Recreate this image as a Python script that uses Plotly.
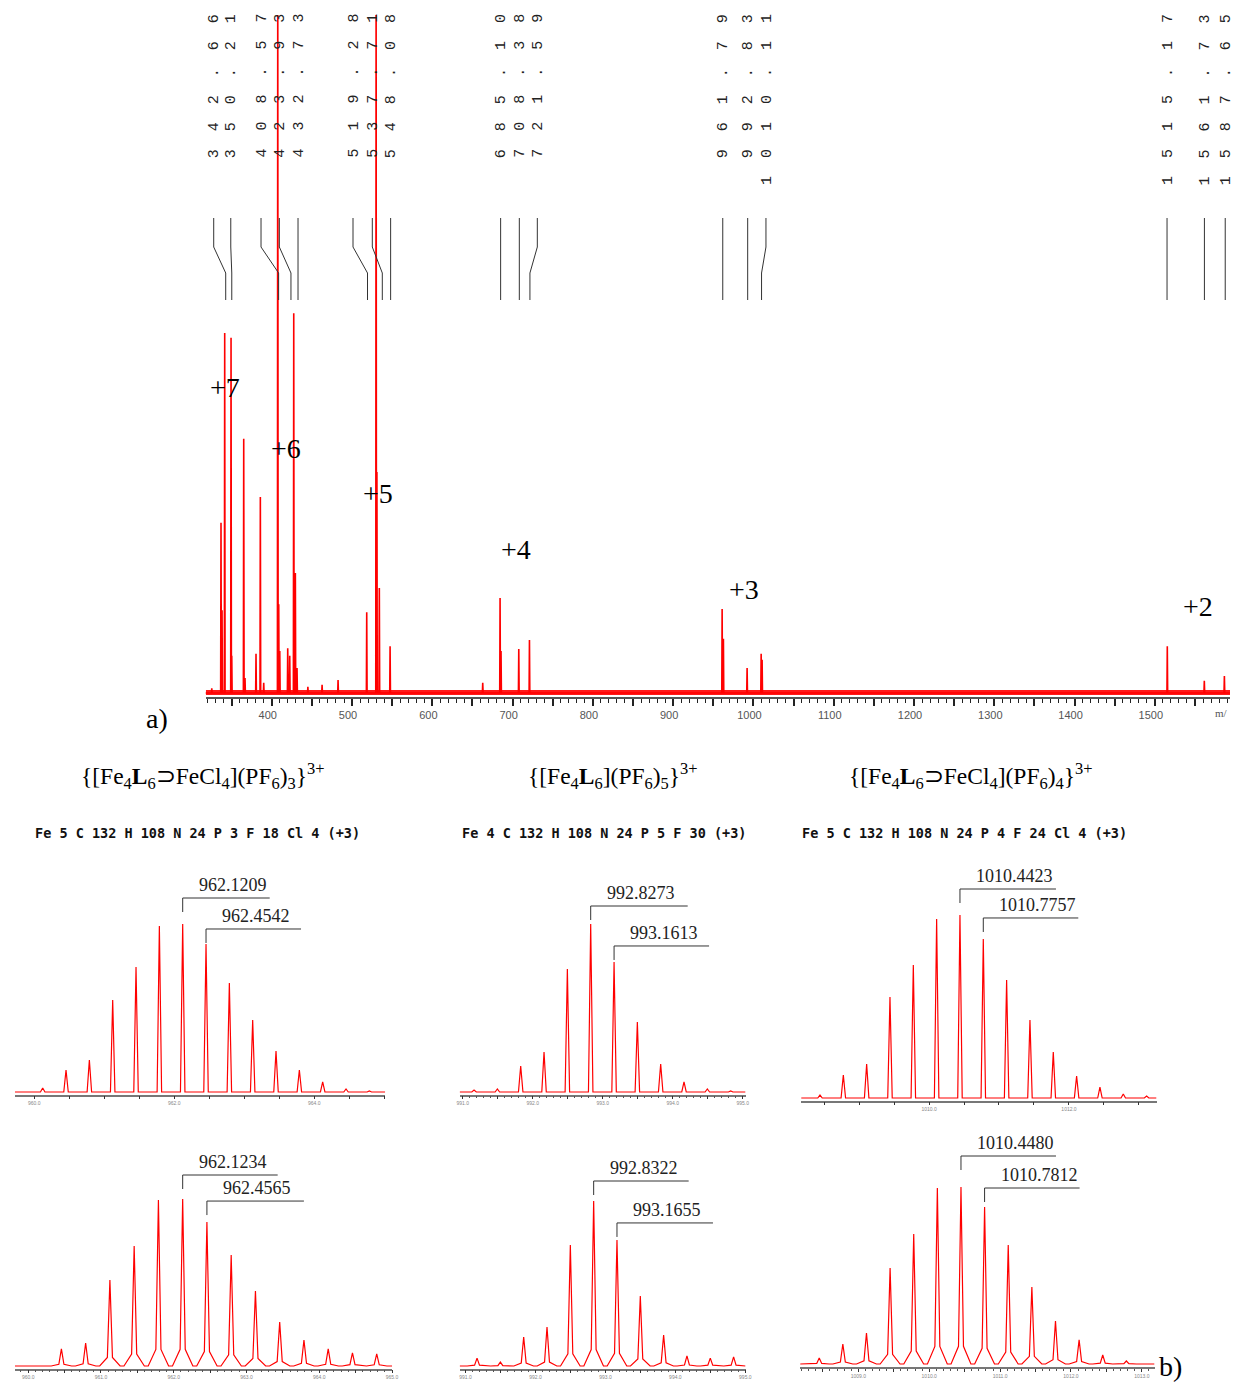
import plotly.graph_objects as go

W, H = 1236, 1383
RED = "#ff0000"

# ---------------------------------------------------------------- data
# a) survey ESI-MS spectrum: peak m/z and relative intensity (% of frame; >100 = off scale)
SURVEY_MZ = [325.3, 336.8, 338.1, 341.4, 349.3, 350.2, 365.1, 366.7, 380.4, 385.8, 390.0,
             407.5, 408.7, 410.0, 419.9, 422.4, 427.4, 429.4, 431.5, 445.0, 462.7, 482.6,
             518.3, 530.0, 531.0, 534.0, 547.4, 662.8, 684.4, 685.6, 707.7, 721.0,
             961.0, 962.6, 992.1, 1009.6, 1010.8, 1515.5, 1561.6, 1586.6]
SURVEY_INT = [0.7, 25.1, 12.2, 53.1, 52.4, 5.5, 37.5, 2.2, 5.8, 28.9, 1.5,
              110.0, 13.1, 6.2, 6.6, 5.5, 56.0, 17.7, 3.7, 0.9, 1.2, 1.9,
              11.9, 110.0, 32.6, 15.5, 6.9, 1.5, 14.0, 6.2, 6.5, 7.8,
              12.4, 8.0, 3.7, 5.8, 4.9, 6.9, 1.8, 2.5]
SURVEY_LABEL_MZ = [342.66, 350.21, 408.57, 423.93, 432.73, 519.28, 537.71, 548.08,
                   685.10, 708.38, 721.59, 961.79, 992.83, 1010.11,
                   1515.17, 1561.73, 1587.65]
CHARGE_STATES = ["+7", "+6", "+5", "+4", "+3", "+2"]
MAIN_TICK_VALUES = [400, 500, 600, 700, 800, 900, 1000, 1100, 1200, 1300, 1400, 1500]
MAIN_TICK_TEXT = ["400", "500", "600", "700", "800", "900", "1000", "1100", "1200",
                  "1300", "1400", "1500"]
MAIN_AXIS_TITLE = "m/"

# b) isotope patterns: calculated (top row) and experimental (bottom row)
CALC1_MZ = [960.1209, 960.4542, 960.7876, 961.1209, 961.4542, 961.7876, 962.1209, 962.4542,
            962.7876, 963.1209, 963.4542, 963.7876, 964.1209, 964.4542, 964.7876]
CALC1_INT = [2.4, 13.1, 19.0, 54.8, 74.4, 98.8, 100, 88.1, 64.9, 42.9, 24.4, 13.1, 6.0, 1.8, 0.6]
CALC2_MZ = [991.1606, 991.4940, 991.8273, 992.1606, 992.4940, 992.8273, 993.1613, 993.4940,
            993.8273, 994.1606, 994.4940, 994.8273]
CALC2_INT = [1.2, 1.8, 15.5, 23.8, 73.2, 100, 77.4, 41.7, 16.7, 6.0, 1.8, 0.6]
CALC3_MZ = [1008.4423, 1008.7757, 1009.1090, 1009.4423, 1009.7757, 1010.1090, 1010.4423,
            1010.7757, 1011.1090, 1011.4423, 1011.7757, 1012.1090, 1012.4423, 1012.7757,
            1013.1090]
CALC3_INT = [1.6, 12.6, 18.6, 55.2, 72.7, 97.8, 100, 86.9, 64.5, 42.6, 25.1, 12.0, 6.0, 2.2, 1.1]

EXP1_MZ = [960.4567, 960.7900, 961.1234, 961.4567, 961.7900, 962.1234, 962.4565, 962.7900,
           963.1234, 963.4567, 963.7900, 964.1234, 964.4567, 964.7900]
EXP1_INT = [10.2, 13.8, 51.5, 71.9, 99.4, 100, 86.2, 66.5, 44.9, 26.3, 15.6, 10.2, 7.8, 7.2]
EXP2_MZ = [991.1655, 991.4989, 991.8322, 992.1655, 992.4989, 992.8322, 993.1655, 993.4989,
           993.8322, 994.1655, 994.4989, 994.8322]
EXP2_INT = [4.8, 2.4, 17.6, 23.6, 73.3, 100, 76.4, 42.4, 18.8, 6.1, 4.8, 5.5]
EXP3_MZ = [1008.4480, 1008.7813, 1009.1147, 1009.4480, 1009.7813, 1010.1147, 1010.4480,
           1010.7812, 1011.1147, 1011.4480, 1011.7813, 1012.1147, 1012.4480, 1012.7813]
EXP3_INT = [3.4, 11.3, 17.5, 54.2, 73.4, 99.4, 100, 88.7, 67.2, 43.5, 24.3, 13.6, 5.1, 1.7]

CALC_LABEL_MZ = [[962.1209, 962.4542], [992.8273, 993.1613], [1010.4423, 1010.7757]]
EXP_LABEL_MZ = [[962.1234, 962.4565], [992.8322, 993.1655], [1010.4480, 1010.7812]]

TITLES = ["{[Fe<sub>4</sub><b>L</b><sub>6</sub>⊃FeCl<sub>4</sub>](PF<sub>6</sub>)<sub>3</sub>}<sup>3+</sup>",
          "{[Fe<sub>4</sub><b>L</b><sub>6</sub>](PF<sub>6</sub>)<sub>5</sub>}<sup>3+</sup>",
          "{[Fe<sub>4</sub><b>L</b><sub>6</sub>⊃FeCl<sub>4</sub>](PF<sub>6</sub>)<sub>4</sub>}<sup>3+</sup>"]
FORMULAS = ["Fe 5 C 132 H 108 N 24 P 3 F 18 Cl 4 (+3)",
            "Fe 4 C 132 H 108 N 24 P 5 F 30 (+3)",
            "Fe 5 C 132 H 108 N 24 P 4 F 24 Cl 4 (+3)"]

P1_TICK_LABELS = ["960.0", "962.0", "964.0"]
P2_TICK_LABELS = ["991.0", "992.0", "993.0", "994.0", "995.0"]
P3_TICK_LABELS = ["1010.0", "1012.0"]
P4_TICK_LABELS = ["960.0", "961.0", "962.0", "963.0", "964.0", "965.0"]
P5_TICK_LABELS = ["991.0", "992.0", "993.0", "994.0", "995.0"]
P6_TICK_LABELS = ["1009.0", "1010.0", "1011.0", "1012.0", "1013.0"]

# ---------------------------------------------------------------- layout helpers
def py(p):
    return 1 - p / H


def pxx(p):
    return p / W


def profile(mz, inten, half, lo, hi, foot=None):
    xs, ys = [lo], [0]
    for m, h in sorted(zip(mz, inten)):
        if foot:
            xs += [m - foot, m - half, m, m + half, m + foot]
            ys += [0, 0.1 * h, h, 0.1 * h, 0]
        else:
            xs += [m - half, m, m + half]
            ys += [0, h, 0]
    xs.append(hi)
    ys.append(0)
    return xs, ys


fig = go.Figure()
shapes, annotations = [], []

# ---------------------------------------------------------------- a) survey spectrum
MAIN_XR = [317.5, 1593.6]
MAIN_YR = [-0.59, 100]
sx, sy = profile(SURVEY_MZ, SURVEY_INT, 0.45, MAIN_XR[0], MAIN_XR[1])
fig.add_trace(go.Scatter(x=sx, y=sy, mode="lines", line=dict(color=RED, width=1.6),
                         xaxis="x", yaxis="y", hoverinfo="skip"))
# noise floor band
shapes.append(dict(type="rect", xref="x", yref="y", x0=MAIN_XR[0] + 0.5, x1=MAIN_XR[1],
                   y0=-0.3, y1=0.45, fillcolor=RED, opacity=0.9, line=dict(width=0),
                   layer="above"))

major_vals, major_text = [], []
for v in range(350, 1601, 50):
    major_vals.append(v)
    major_text.append(MAIN_TICK_TEXT[MAIN_TICK_VALUES.index(v)] if v in MAIN_TICK_VALUES else "")

layout_axes = dict(
    xaxis=dict(domain=[pxx(204), 1.0], range=MAIN_XR, anchor="y", showgrid=False,
               zeroline=False, showline=True, linecolor="#555", linewidth=2, ticks="outside",
               ticklen=7, tickwidth=1.5, tickcolor="#222", tickvals=major_vals,
               ticktext=major_text,
               tickfont=dict(family="Liberation Sans", size=11, color="#555"),
               ticklabelshift=-4,
               minor=dict(ticks="outside", tick0=0, dtick=10, ticklen=4, tickwidth=1,
                          tickcolor="#222")),
    yaxis=dict(domain=[py(697), py(15)], range=MAIN_YR, anchor="x", visible=False),
)
annotations.append(dict(x=pxx(1236), y=py(713), xref="paper", yref="paper",
                        text=MAIN_AXIS_TITLE, xanchor="right", yanchor="middle",
                        showarrow=False,
                        font=dict(family="Liberation Serif", size=11, color="#555")))

# peak-label columns and connectors
LABEL_SHIFT_PX = [-12, -1, -17.6, -11.6, 0, -14.5, -10, 0, 0, 0, 7.4, 0, 0, 4.4, 0, 0, 0]
yc = [py(218), py(247), py(273), py(300)]
for m, s in zip(SURVEY_LABEL_MZ, LABEL_SHIFT_PX):
    txt = "\u00a0\u00a0".join(list(f"{m:.2f}"))
    annotations.append(dict(x=m, xref="x", y=py(12), yref="paper", text=txt, textangle=-90,
                            xanchor="center", yanchor="top", xshift=s + 1.5, showarrow=False,
                            font=dict(family="Liberation Mono", size=15, color="#222")))
    path = f"M {s},{yc[0]} L {s},{yc[1]} L 0,{yc[2]} L 0,{yc[3]}"
    shapes.append(dict(type="path", xref="x", yref="paper", xsizemode="pixel", xanchor=m,
                       path=path, line=dict(color="#333", width=1)))

CHARGE_POS = [(341.8, 45.0), (417.8, 36.1), (532.4, 29.4), (704.3, 21.2), (988.4, 15.2),
              (1553.9, 12.7)]
for lab, (cx, cy) in zip(CHARGE_STATES, CHARGE_POS):
    annotations.append(dict(x=cx, y=cy, xref="x", yref="y", text=lab, showarrow=False,
                            xanchor="center", yanchor="middle",
                            font=dict(family="Liberation Serif", size=28, color="#000")))

annotations.append(dict(x=pxx(155), y=py(718), xref="paper", yref="paper", text="a)",
                        xanchor="center", yanchor="middle", showarrow=False,
                        font=dict(family="Liberation Serif", size=28, color="#000")))
annotations.append(dict(x=pxx(1176), y=py(1366), xref="paper", yref="paper", text="b)",
                        xanchor="center", yanchor="middle", showarrow=False,
                        font=dict(family="Liberation Serif", size=28, color="#000")))

# ---------------------------------------------------------------- b) isotope panels
PANELS = [
    dict(mz=CALC1_MZ, it=CALC1_INT, px=(12, 385), axis=1094.5, base=1092, full=924, top=860,
         xr=(959.724, 965.014), labels=P1_TICK_LABELS, minor=False, exp=False,
         peaks=CALC_LABEL_MZ[0], gaps=[12, 1], lens=[87, 95]),
    dict(mz=CALC2_MZ, it=CALC2_INT, px=(460, 748), axis=1094.5, base=1092, full=924, top=860,
         xr=(990.955, 995.040), labels=P2_TICK_LABELS, minor=True, exp=False,
         peaks=CALC_LABEL_MZ[1], gaps=[4, 2], lens=[97, 95]),
    dict(mz=CALC3_MZ, it=CALC3_INT, px=(804, 1162), axis=1100.5, base=1098, full=915, top=860,
         xr=(1008.173, 1013.251), labels=P3_TICK_LABELS, minor=False, exp=False,
         peaks=CALC_LABEL_MZ[2], gaps=[12, 7], lens=[96, 95]),
    dict(mz=EXP1_MZ, it=EXP1_INT, px=(12, 392), axis=1368.5, base=1366, full=1199, top=1135,
         xr=(959.818, 965.002), labels=P4_TICK_LABELS, minor=True, exp=True,
         peaks=EXP_LABEL_MZ[0], gaps=[10, 7], lens=[95, 97]),
    dict(mz=EXP2_MZ, it=EXP2_INT, px=(460, 748), axis=1368.5, base=1366, full=1201, top=1135,
         xr=(990.917, 995.003), labels=P5_TICK_LABELS, minor=True, exp=True,
         peaks=EXP_LABEL_MZ[1], gaps=[6, 3], lens=[95, 96]),
    dict(mz=EXP3_MZ, it=EXP3_INT, px=(803, 1160), axis=1367, base=1364, full=1187, top=1135,
         xr=(1008.179, 1013.179), labels=P6_TICK_LABELS, minor=True, exp=True,
         peaks=EXP_LABEL_MZ[2], gaps=[17, 5], lens=[95, 95]),
]

for i, P in enumerate(PANELS):
    k = i + 2
    xa, ya = f"x{k}", f"y{k}"
    scale = (P["base"] - P["full"]) / 100.0
    yr = [-(P["axis"] - P["base"]) / scale, (P["base"] - P["top"]) / scale]
    if P["exp"]:
        px_, py_ = profile(P["mz"], P["it"], 0.035, P["xr"][0], P["xr"][1], foot=0.14)
    else:
        px_, py_ = profile(P["mz"], P["it"], 0.032, P["xr"][0], P["xr"][1])
    fig.add_trace(go.Scatter(x=px_, y=py_, mode="lines", line=dict(color=RED, width=1.2),
                             xaxis=xa, yaxis=ya, hoverinfo="skip"))
    labvals = [float(t) for t in P["labels"]]
    tv, tt = [], []
    v = round(P["xr"][0] * 2) / 2.0
    while v <= P["xr"][1]:
        tv.append(v)
        tt.append(P["labels"][labvals.index(v)] if v in labvals else "")
        v += 0.5
    xdict = dict(domain=[pxx(P["px"][0]), pxx(P["px"][1])], range=list(P["xr"]), anchor=ya,
                 showgrid=False, zeroline=False, showline=True, linecolor="#777", linewidth=1.5,
                 ticks="outside", ticklen=3, tickwidth=1, tickcolor="#333", tickvals=tv,
                 ticktext=tt, tickfont=dict(family="Liberation Sans", size=5, color="#888"))
    if P["minor"]:
        xdict["minor"] = dict(ticks="outside", tick0=0, dtick=0.1, ticklen=2, tickwidth=1,
                              tickcolor="#555")
    layout_axes[f"xaxis{k}"] = xdict
    layout_axes[f"yaxis{k}"] = dict(domain=[py(P["axis"]), py(P["top"])], range=yr, anchor=xa,
                                    visible=False)
    # bracketed peak labels
    for lm, g, L in zip(P["peaks"], P["gaps"], P["lens"]):
        j = min(range(len(P["mz"])), key=lambda n: abs(P["mz"][n] - lm))
        h = P["it"][j]
        shapes.append(dict(type="path", xref=xa, yref=ya, xsizemode="pixel", ysizemode="pixel",
                           xanchor=lm, yanchor=h,
                           path=f"M 0,{g} L 0,{g + 14} L {L},{g + 14}",
                           line=dict(color="#333", width=1)))
        annotations.append(dict(x=lm, y=h, xref=xa, yref=ya, text=f"{lm:.4f}", showarrow=False,
                                xanchor="left", yanchor="bottom", xshift=14, yshift=g + 15,
                                font=dict(family="Liberation Serif", size=18, color="#222")))

TITLE_X = [201, 614, 975]
FORMULA_X = [196, 605, 969]
for t, f, tx, fx in zip(TITLES, FORMULAS, TITLE_X, FORMULA_X):
    annotations.append(dict(x=pxx(tx), y=py(776), xref="paper", yref="paper", text=t,
                            xanchor="center", yanchor="middle", showarrow=False,
                            font=dict(family="Liberation Serif", size=23.5, color="#000")))
    annotations.append(dict(x=pxx(fx), y=py(833), xref="paper", yref="paper", text=f"<b>{f}</b>",
                            xanchor="center", yanchor="middle", showarrow=False,
                            font=dict(family="DejaVu Sans Mono", size=13.5, color="#111")))

fig.update_layout(width=W, height=H, margin=dict(l=0, r=0, t=0, b=0), showlegend=False,
                  paper_bgcolor="white", plot_bgcolor="white", shapes=shapes,
                  annotations=annotations, **layout_axes)
fig.write_html("out.html", config={"displayModeBar": False},
               post_script="document.body.style.margin='0';")
